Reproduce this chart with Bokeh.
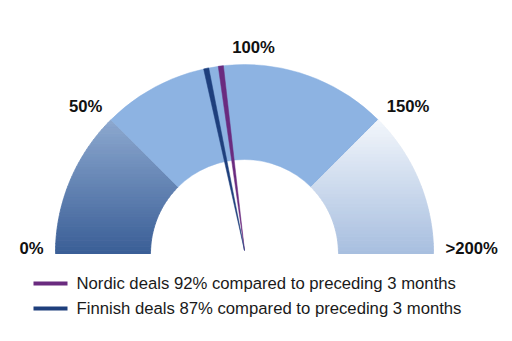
import numpy as np
from bokeh.plotting import figure
from bokeh.models import Range1d
from bokeh.core.properties import value
from bokeh.embed import file_html
from bokeh.resources import INLINE

# ---- data ----
band_starts = [0, 50, 150]
band_ends = [50, 150, 200]
tick_values = [0, 50, 100, 150, 200]
tick_labels = ["0%", "50%", "100%", "150%", ">200%"]
needle_names = ["Nordic", "Finnish"]
needle_values = [92, 87]
needle_colors = ["#6A2B7F", "#1E3F7C"]

W, H = 512, 341
cx, cy = 244, H - 253
ro, ri = 189, 94
vmax = 200.0


def ang(v):
    return np.pi * (1 - v / vmax)


p = figure(width=W, height=H, x_range=Range1d(0, W), y_range=Range1d(0, H),
           output_backend="svg", toolbar_location=None, min_border=0,
           x_axis_location=None, y_axis_location=None)
p.grid.visible = False
p.outline_line_color = None
p.background_fill_color = "white"


def lerp(c1, c2, t):
    a = [int(c1[i:i + 2], 16) for i in (1, 3, 5)]
    b = [int(c2[i:i + 2], 16) for i in (1, 3, 5)]
    return "#%02x%02x%02x" % tuple(int(round(a[k] + (b[k] - a[k]) * t)) for k in range(3))


def gradient_wedge(a_edge, side, c_bottom, c_top, nb=40):
    # wedge between the horizontal (left or right) and the ray at angle a_edge
    htop = ro * np.sin(a_edge)
    cot = abs(np.cos(a_edge) / np.sin(a_edge))
    xs, ys, cols = [], [], []
    for k in range(nb):
        h1, h2 = htop * k / nb, htop * (k + 1) / nb
        hs = np.linspace(h1, h2, 8)
        xo = np.sqrt(np.clip(ro ** 2 - hs ** 2, 0, None))
        xi = np.maximum(hs * cot, np.sqrt(np.clip(ri ** 2 - hs ** 2, 0, None)))
        xi = np.minimum(xi, xo)
        px = np.concatenate([xo, xi[::-1]]) * side + cx
        py = np.concatenate([hs, hs[::-1]]) + cy
        xs.append(list(px))
        ys.append(list(py))
        cols.append(lerp(c_bottom, c_top, (k + 0.5) / nb))
    p.patches(xs, ys, fill_color=cols, line_color=cols, line_width=1)


# 0-50 band (dark gradient)
gradient_wedge(ang(band_ends[0]), -1, "#3a5e96", "#8ca8cf")
# 50-150 band (solid light blue)
p.annular_wedge(x=cx, y=cy, inner_radius=ri, outer_radius=ro,
                start_angle=ang(band_ends[1]), end_angle=ang(band_starts[1]),
                fill_color="#8db3e2", line_color="#8db3e2", line_width=0.5)
# 150-200 band (pale gradient)
gradient_wedge(ang(band_starts[2]), 1, "#a7bedf", "#f2f6fb")

# needles
nx, ny = [], []
for v in needle_values:
    a = ang(v)
    ux, uy = np.cos(a), np.sin(a)
    px_, py_ = -uy, ux
    hw = 2.6
    tipx, tipy = cx, cy + 3
    bx, by = cx + ro * ux, cy + ro * uy
    nx.append([tipx, bx + hw * px_, bx - hw * px_])
    ny.append([tipy, by + hw * py_, by - hw * py_])
p.patches(nx, ny, fill_color=needle_colors, line_color=needle_colors, line_width=0.5)

# tick labels
R = 201
for v, lab in zip(tick_values, tick_labels):
    a = ang(v)
    x = cx + R * np.cos(a)
    y = cy + R * np.sin(a)
    if abs(np.cos(a)) < 0.2:
        align, xo = "center", 9
    elif np.cos(a) < 0:
        align, xo = "right", 0
    else:
        align, xo = "left", 0
    p.text(x=[x], y=[y], text=[lab], text_align=align, text_baseline="alphabetic",
           x_offset=xo, y_offset=-5, text_font=value("Liberation Sans"), text_font_style="bold",
           text_font_size="16.7px", text_color="#111111")

# legend
leg_y = [H - 283, H - 308]
for name, v, c, yy in zip(needle_names, needle_values, needle_colors, leg_y):
    p.segment(x0=[33], y0=[yy], x1=[67], y1=[yy], line_color=c, line_width=4)
    p.text(x=[76], y=[yy], text=[f"{name} deals {v}% compared to preceding 3 months"],
           text_align="left", text_baseline="middle", text_font=value("Liberation Sans"),
           text_font_size="16.7px", text_color="#1a1a1a")

open("out.html", "w").write(file_html(p, INLINE))
